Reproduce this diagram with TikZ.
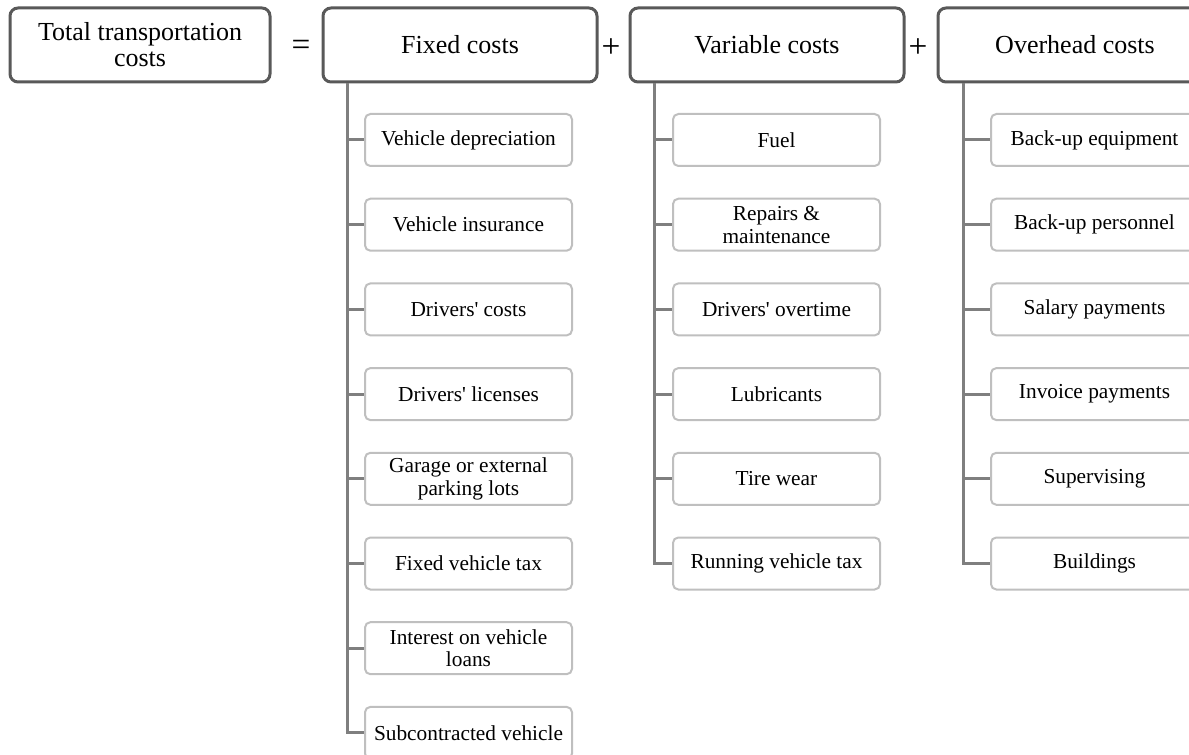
\documentclass[tikz,border=0pt]{standalone}
\usepackage{fontspec}
\setmainfont{Liberation Serif}
\usepackage{tikz}
\usetikzlibrary{positioning}
\definecolor{costDark}{RGB}{89,89,89}
\definecolor{costGray}{RGB}{127,127,127}
\definecolor{costLight}{RGB}{191,191,191}
\tikzset{
  costhead/.style={draw=costDark, line width=2.25pt, rounded corners=6pt, fill=white,
    minimum width=205.5pt, minimum height=55.5pt, inner sep=0pt, align=center,
    font=\fontsize{19.5}{19.5}\selectfont},
  costitem/.style={draw=costLight, line width=1.5pt, rounded corners=4pt, fill=white,
    minimum width=155.25pt, minimum height=39pt, inner sep=0pt, align=center,
    font=\fontsize{16}{17}\selectfont},
  costsign/.style={font=\fontsize{25}{25}\selectfont, inner sep=0pt},
  branch/.style={draw=costGray, line width=2.25pt},
}
\begin{document}
\begin{tikzpicture}[x=0.75pt,y=-0.75pt]
\clip (0,0) rectangle (1189,755);
% top row
\node[costhead, minimum width=195pt] (total) at (140,45) {Total transportation\\costs};
\node[costsign] (eq) at (301,48) {=};
\node[costhead] (fixed) at (460,45) {Fixed costs};
\node[costsign] (plusA) at (611,48) {+};
\node[costhead] (variable) at (767,45) {Variable costs};
\node[costsign] (plusB) at (918,48) {+};
\node[costhead] (overhead) at (1075,45) {Overhead costs};

% fixed costs
\foreach \i/\txt in {1/Vehicle depreciation, 2/Vehicle insurance, 3/Drivers\textquotesingle\ costs,
    4/Drivers\textquotesingle\ licenses, 5/{Garage or external\\parking lots}, 6/Fixed vehicle tax,
    7/{Interest on vehicle\\loans}, 8/Subcontracted vehicle}{
  \node[costitem] (f\i) at (468.5,{140+84.7*(\i-1)}) {\txt};
  \draw[branch] ([xshift=19.5pt]fixed.south west) |- (f\i.west);
}

% variable costs
\foreach \i/\txt in {1/Fuel, 2/{Repairs \&\\maintenance}, 3/Drivers\textquotesingle\ overtime,
    4/Lubricants, 5/Tire wear, 6/Running vehicle tax}{
  \node[costitem] (v\i) at (776.5,{140+84.7*(\i-1)}) {\txt};
  \draw[branch] ([xshift=19.5pt]variable.south west) |- (v\i.west);
}

% overhead costs
\foreach \i/\txt in {1/Back-up equipment, 2/Back-up personnel, 3/Salary payments,
    4/Invoice payments, 5/Supervising, 6/Buildings}{
  \node[costitem] (o\i) at (1094.5,{140+84.7*(\i-1)}) {\txt};
  \draw[branch] ([xshift=20.25pt]overhead.south west) |- (o\i.west);
}
\end{tikzpicture}
\end{document}
